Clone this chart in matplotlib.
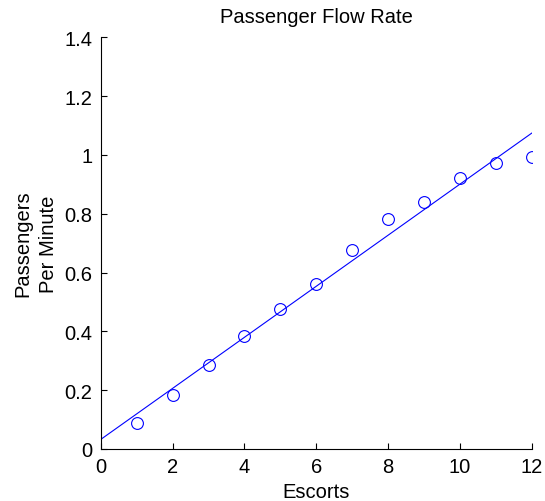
import numpy as np
import matplotlib.pyplot as plt

plt.rcParams['font.family'] = ['Liberation Sans', 'DejaVu Sans']

# Data
escorts = np.arange(1, 13)
flow_rate = [0.087, 0.185, 0.285, 0.384, 0.475, 0.560,
             0.678, 0.782, 0.839, 0.921, 0.974, 0.992]

# least squares line
slope, intercept = np.polyfit(escorts, flow_rate, 1)
x_fit = np.array([0, 12])
y_fit = intercept + slope * x_fit

fig = plt.figure(figsize=(5.45, 5.02), dpi=100)
ax = fig.add_axes([0.185, 0.1036, 0.7906, 0.82])

ax.plot(escorts, flow_rate, 'o', mfc='none', mec='blue', ms=8.5, mew=0.8)
ax.plot(x_fit, y_fit, color='blue', linewidth=0.8)

ax.set_xlim(0, 12)
ax.set_ylim(0, 1.4)
ax.set_xticks(np.arange(0, 13, 2))
ax.set_yticks(np.arange(0, 1.41, 0.2))
ax.set_yticklabels(['0', '0.2', '0.4', '0.6', '0.8', '1', '1.2', '1.4'])

ax.spines['top'].set_visible(False)
ax.spines['right'].set_visible(False)
ax.tick_params(direction='in', length=4, labelsize=14.5, pad=6)

ax.set_xlabel('Escorts', fontsize=14.5, labelpad=4)
ax.set_ylabel('Passengers\nPer Minute', fontsize=14.5, labelpad=5,
              multialignment='center', linespacing=1.4)
ax.set_title('Passenger Flow Rate', fontsize=14.5, pad=11)

plt.savefig('out.png', dpi=100)
